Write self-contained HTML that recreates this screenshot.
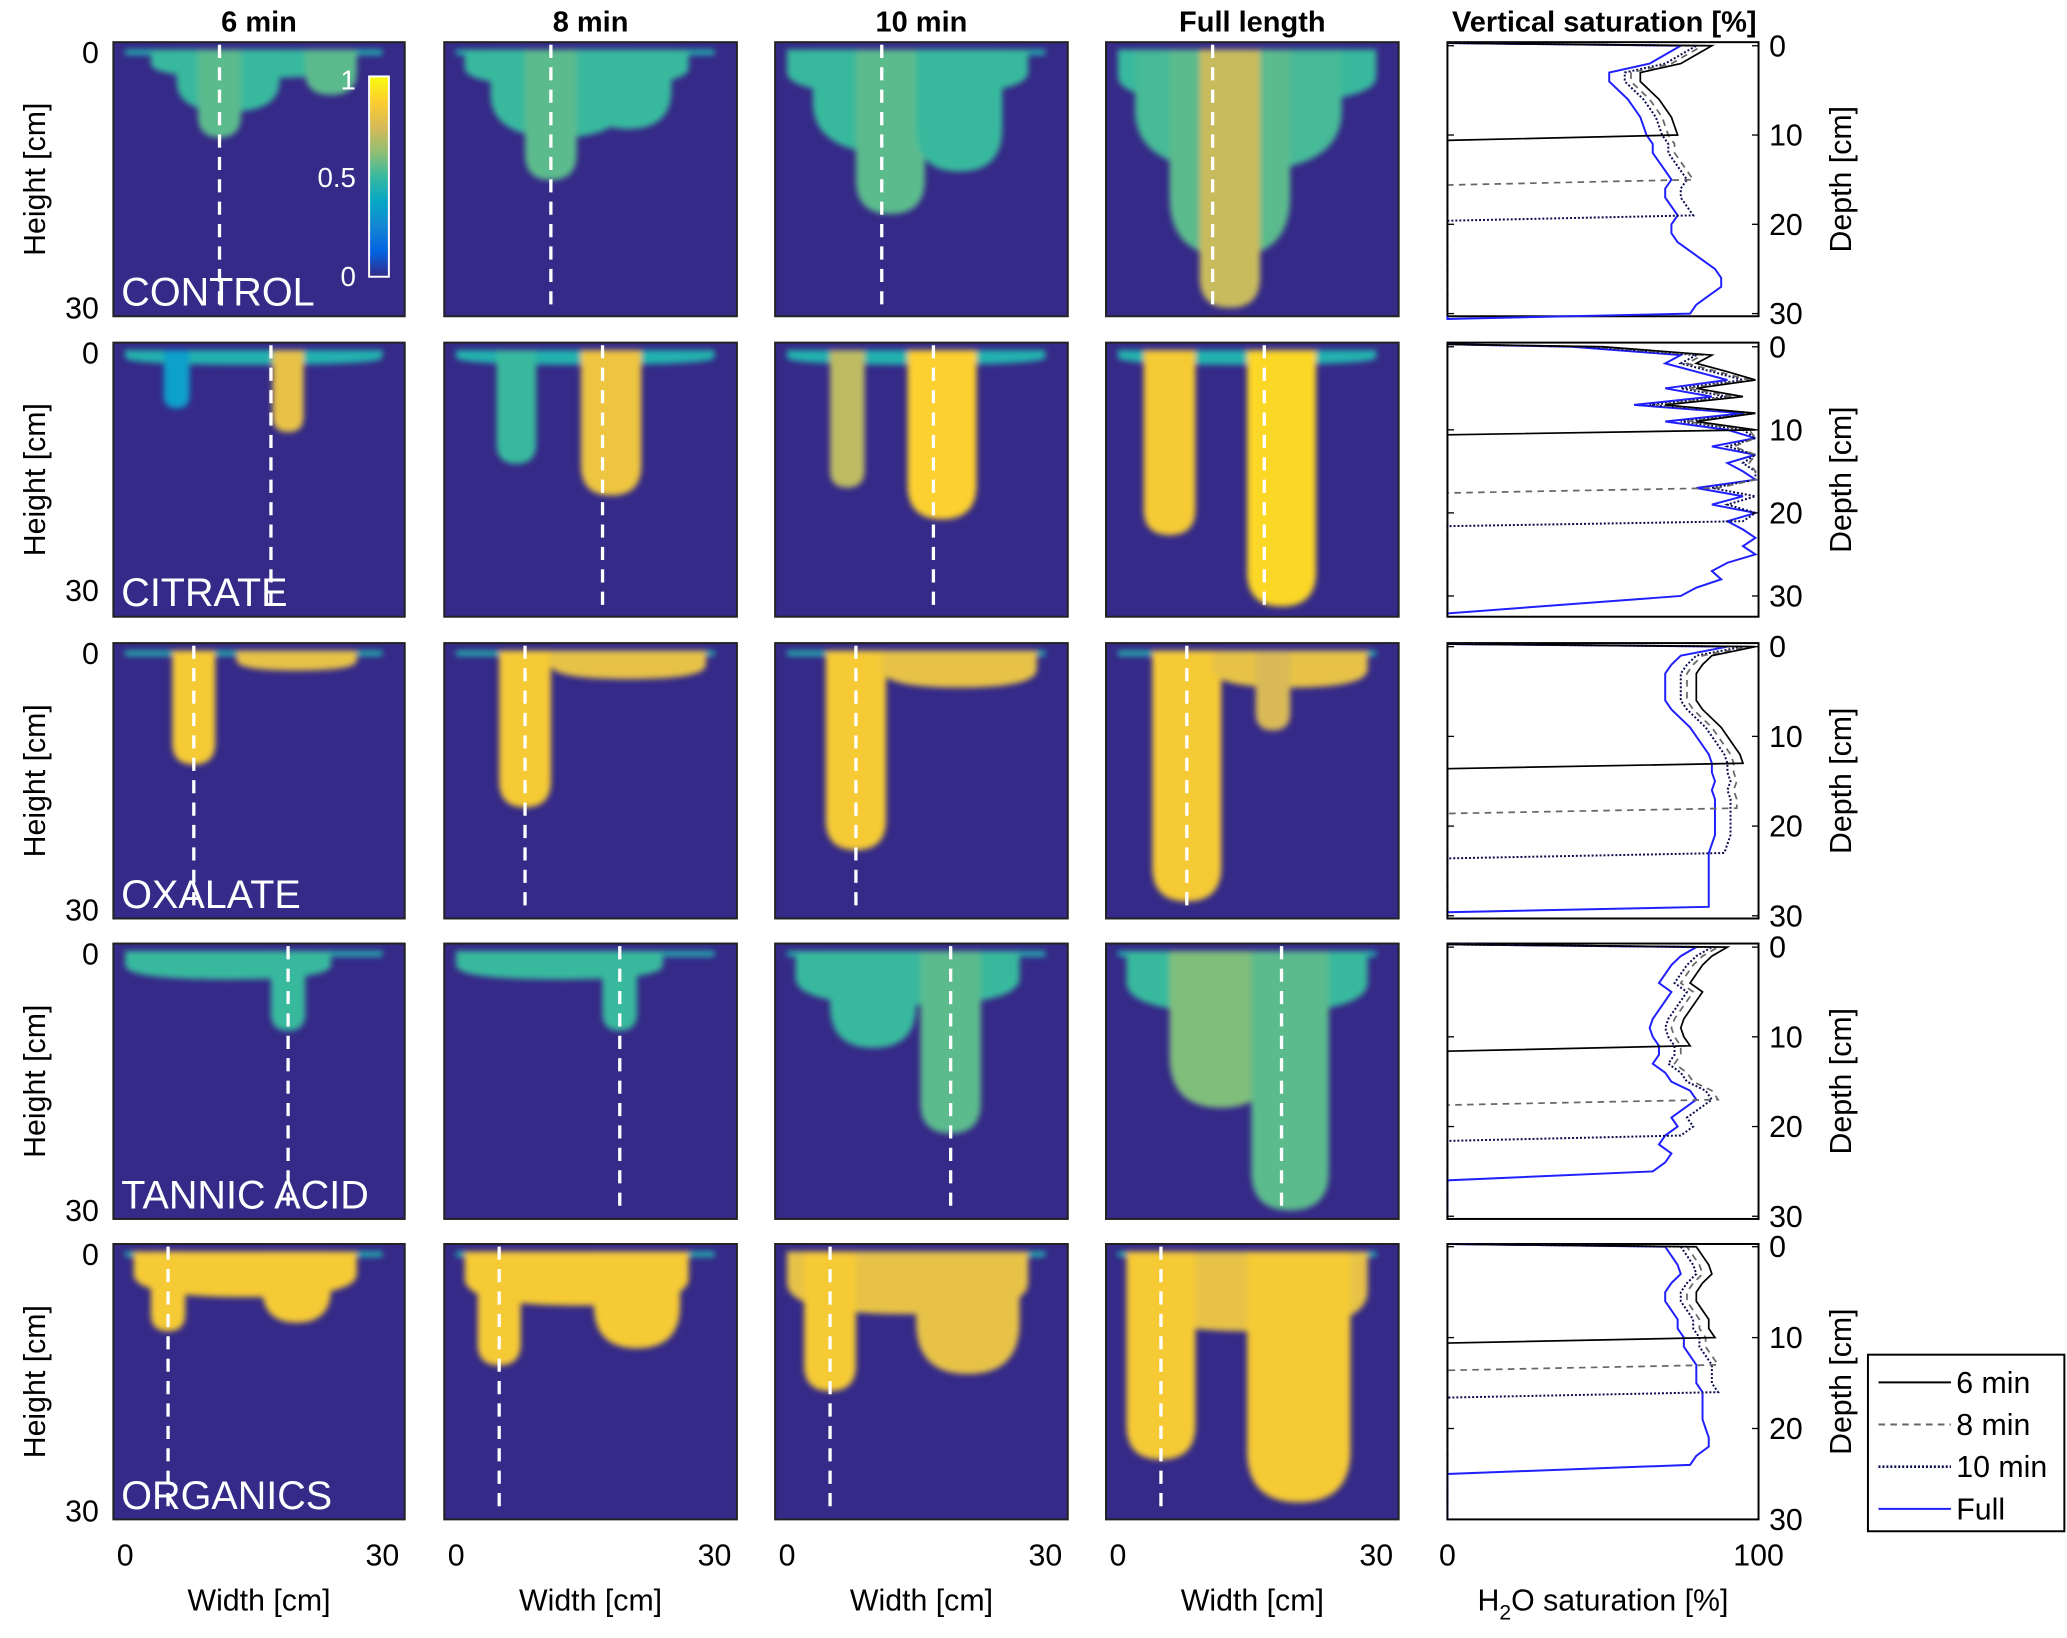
<!DOCTYPE html>
<html><head><meta charset="utf-8"><style>
html,body{margin:0;padding:0;background:#fff}
svg{display:block}
text{font-family:"Liberation Sans",sans-serif}
</style></head><body>
<svg id="fig" width="2067" height="1638" viewBox="0 0 1568 1243" preserveAspectRatio="none" xmlns="http://www.w3.org/2000/svg">
<defs>
<filter id="blur" x="-20%" y="-20%" width="140%" height="140%"><feGaussianBlur stdDeviation="2.2"/></filter>
<linearGradient id="parulaGrad" x1="0" y1="1" x2="0" y2="0">
<stop offset="0" stop-color="#352a87"/><stop offset="0.125" stop-color="#0363e1"/><stop offset="0.25" stop-color="#1485d4"/><stop offset="0.375" stop-color="#06a7c6"/><stop offset="0.5" stop-color="#38b99e"/><stop offset="0.625" stop-color="#92bf73"/><stop offset="0.75" stop-color="#d9ba56"/><stop offset="0.875" stop-color="#fcce2e"/><stop offset="1" stop-color="#f9fb0e"/>
</linearGradient>
</defs>
</svg>
<script>
// ---------- data ----------
const columnTitles = ["6 min","8 min","10 min","Full length"];
const rowNames = ["CONTROL","CITRATE","OXALATE","TANNIC ACID","ORGANICS"];
const seriesNames = ["6 min","8 min","10 min","Full"];
// plume blobs per row, per column: [centerX cm, halfWidth cm, bottomDepth cm, level 0-1]
const plumesControl = [
 [[15,12,3,0.5],[12,6,7,0.5],[11,2.5,10,0.55],[24,3,5,0.55]],
 [[14,13,4,0.5],[12,8,10,0.5],[11,3,15,0.55],[20,5,9,0.5]],
 [[14,14,5,0.5],[13,10,12,0.5],[12,4,19,0.55],[20,5,14,0.5]],
 [[15,15,6,0.5],[14,12,14,0.52],[13,7,24,0.55],[13,3.5,30,0.72]]];
const plumesCitrate = [
 [[15,15,1.5,0.45],[6,1.5,7,0.35],[19,1.8,10,0.8]],
 [[15,15,1.5,0.45],[7,2.3,14,0.5],[18,3.5,18,0.82]],
 [[15,15,1.5,0.45],[7,2,17,0.7],[18,4,21,0.88]],
 [[15,15,1.5,0.45],[6,3,23,0.85],[19,4,32,0.9]]];
const plumesOxalate = [
 [[8,2.5,13,0.85],[20,7,2,0.8]],
 [[8,3,18,0.85],[20,9,3,0.8]],
 [[8,3.5,23,0.85],[20,9,4,0.8]],
 [[8,4,29,0.85],[20,9,4,0.8],[18,2,9,0.75]]];
const plumesTannic = [
 [[12,12,3,0.5],[19,2,9,0.5]],
 [[12,12,3,0.5],[19,2,9,0.5]],
 [[14,13,6,0.5],[10,5,11,0.5],[19,3.5,21,0.55]],
 [[15,14,7,0.5],[12,6,18,0.6],[20,4.5,30,0.55]]];
const plumesOrganics = [
 [[14,13,5,0.85],[5,2,9,0.85],[20,4,8,0.85]],
 [[14,13,6,0.85],[5,2.5,13,0.85],[21,5,11,0.85]],
 [[14,14,7,0.8],[5,3,16,0.85],[21,6,14,0.8]],
 [[15,14,9,0.8],[5,4,24,0.85],[21,6,29,0.85]]];
const plumes = [plumesControl,plumesCitrate,plumesOxalate,plumesTannic,plumesOrganics];
const dashX = [11,17,8,19,5];
// saturation profiles (% at depth 0..30 cm)
const satControl = [75,70,65,52,52,55,58,60,62,63,64,66,66,68,70,72,70,70,72,74,72,72,74,78,82,86,88,88,84,80,78];
const satCitrate = [40,75,70,80,90,70,85,60,95,70,90,100,85,100,90,95,100,80,95,85,100,90,95,100,95,100,90,85,88,80,75];
const satOxalate = [90,75,72,70,70,70,70,72,75,78,80,82,84,85,85,86,85,86,86,86,86,86,85,84,84,84,84,84,84,84,84];
const satTannic = [80,75,72,70,68,72,70,68,66,65,66,68,68,66,70,72,78,80,76,72,74,70,68,72,70,66,0,0,0,0,0];
const satOrganics = [70,72,74,75,72,70,70,72,74,74,76,76,78,80,80,80,82,82,82,82,83,84,84,80,78,0,0,0,0,0,0];
const satProfiles = [satControl,satCitrate,satOxalate,satTannic,satOrganics];
const seriesOffset = [10,7,5,0];
const fronts = [[10,15,19,30],[10,17,21,31.5],[13,18,23,29],[11,17,21,27],[10,13,16,26]];

// ---------- layout ----------
const NS="http://www.w3.org/2000/svg";
const svg=document.getElementById('fig');
const colX=[[86,307],[337,559],[588,810],[839,1061]];
const rowY=[[32,240],[260,468],[488,697],[716,925],[944,1153]];
const imgYDom=[[-1.2,31],[-1.3,33.3],[-1.2,31],[-1.2,31],[-1.2,31]];
const imgXDom=[-1.38,32.6];
const profX=[1098,1334];
const profYDom=[[-0.4,30.3],[-0.5,32.5],[-0.4,30.3],[-0.4,30.3],[-0.3,30]];
function el(tag,attrs,parent){const e=document.createElementNS(NS,tag);for(const k in attrs)e.setAttribute(k,attrs[k]);(parent||svg).appendChild(e);return e;}
function txt(s,x,y,size,anchor,parent,extra){const t=el('text',Object.assign({x:x,y:y,'font-size':size,'text-anchor':anchor||'middle',fill:'#000'},extra||{}),parent);t.textContent=s;return t;}
const stops=[[0,[53,42,135]],[0.125,[3,99,225]],[0.25,[20,133,212]],[0.375,[6,167,198]],[0.5,[56,185,158]],[0.625,[146,191,115]],[0.75,[217,186,86]],[0.875,[252,206,46]],[1,[249,251,14]]];
function parula(v){for(let i=1;i<stops.length;i++){if(v<=stops[i][0]){const a=stops[i-1],b=stops[i],t=(v-a[0])/(b[0]-a[0]);return 'rgb('+a[1].map((c,j)=>Math.round(c+(b[1][j]-c)*t)).join(',')+')';}}return 'rgb(249,251,14)';}

// titles
columnTitles.forEach((t,c)=>{const e=txt(t,(colX[c][0]+colX[c][1])/2,24,22,'middle',svg,{'font-weight':'bold'});

});
{const e=txt('Vertical saturation [%]',1217,24,22,'middle',svg,{'font-weight':'bold'});

}

for(let r=0;r<5;r++){
 const [y0,y1]=rowY[r];
 const yd=imgYDom[r];
 const ys=d=>y0+(d-yd[0])/(yd[1]-yd[0])*(y1-y0);
 const hl=txt('Height [cm]',0,0,23,'middle',svg,{transform:'translate(34,'+((y0+y1)/2)+') rotate(-90)'});
 
 
 txt('0',75,ys(0)+8,23,'end');
 txt('30',75,ys(30)+8,23,'end');
 for(let c=0;c<4;c++){
  const [x0,x1]=colX[c];
  const xs=v=>x0+(v-imgXDom[0])/(imgXDom[1]-imgXDom[0])*(x1-x0);
  const g=el('g',{});
  
  
  const cid='clip'+r+'_'+c;
  const cp=el('clipPath',{id:cid},g);el('rect',{x:x0,y:y0,width:x1-x0,height:y1-y0},cp);
  el('rect',{x:x0,y:y0,width:x1-x0,height:y1-y0,fill:'#352a87'},g);
  const bg=el('g',{'clip-path':'url(#'+cid+')'},g);
  const bl=el('g',{filter:'url(#blur)'},bg);
  el('rect',{x:xs(0),y:ys(0)-2,width:xs(30)-xs(0),height:4,fill:parula(0.45)},bl);
  plumes[r][c].forEach(p=>{
   const L=xs(p[0]-p[1]),R=xs(p[0]+p[1]),T=ys(0)-2,B=ys(p[2]),cx=xs(p[0]);
   const rr=Math.min((R-L)/2,(B-T)/2);
   const d='M'+L+','+T+' L'+R+','+T+' L'+R+','+(B-rr)+' Q'+R+','+B+' '+cx+','+B+' Q'+L+','+B+' '+L+','+(B-rr)+' Z';
   const pth=el('path',{d:d,fill:parula(p[3])},bl);
   
   
  });
  const dl=el('line',{x1:xs(dashX[r]),x2:xs(dashX[r]),y1:y0+2,y2:y1-4,stroke:'#fff','stroke-width':2.5,'stroke-dasharray':'10,7'},g);
  
  
  el('rect',{x:x0,y:y0,width:x1-x0,height:y1-y0,fill:'none',stroke:'#222','stroke-width':1.5},g);
  if(c===0){const rl=txt(rowNames[r],x0+6,y1-8,30,'start',g,{fill:'#fff'});
   
   }
  if(r===4){txt('0',xs(0),1188,23);txt('30',xs(30),1188,23);
   const wl=txt('Width [cm]',(x0+x1)/2,1222,23);
   
   }
  if(r===0&&c===0){
   const cb=el('g',{});
   
   
   el('rect',{x:280,y:58,width:15,height:152,fill:'url(#parulaGrad)',stroke:'#fff','stroke-width':1.5},cb);
   txt('1',270,68,21,'end',cb,{fill:'#fff'});
   txt('0.5',270,142,21,'end',cb,{fill:'#fff'});
   txt('0',270,217,21,'end',cb,{fill:'#fff'});
  }
 }
 const pd=profYDom[r];
 const py=d=>y0+(d-pd[0])/(pd[1]-pd[0])*(y1-y0);
 const px=v=>profX[0]+v/100*(profX[1]-profX[0]);
 const pg=el('g',{});
 
 
 el('rect',{x:profX[0],y:y0,width:profX[1]-profX[0],height:y1-y0,fill:'#fff',stroke:'#000','stroke-width':1.5},pg);
 const styles=[{stroke:'#000','stroke-width':1.3},{stroke:'#666','stroke-width':1.3,'stroke-dasharray':'5,4'},{stroke:'#0a0a50','stroke-width':1.5,'stroke-dasharray':'1.5,1.5'},{stroke:'#2020ff','stroke-width':1.5}];
 [3,2,1,0].forEach(s=>{
  const f=fronts[r][s];const sat=satProfiles[r];
  const pts=[[0,-0.3]];
  for(let d=0;d<=Math.floor(f)&&d<sat.length;d++){pts.push([Math.min(99,sat[d]+(s<3?seriesOffset[s]:0)),d]);}
  pts.push([0,f+0.6]);pts.push([0,pd[1]]);
  const pl=el('polyline',Object.assign({points:pts.map(p=>px(p[0])+','+py(p[1])).join(' '),fill:'none'},styles[s]),pg);
  
  
 });
 [0,10,20,30].forEach(t=>{if(py(t)<=y1+1){el('line',{x1:profX[1]-5,x2:profX[1],y1:py(t),y2:py(t),stroke:'#000'},pg);el('line',{x1:profX[0],x2:profX[0]+5,y1:py(t),y2:py(t),stroke:'#000'},pg);txt(String(t),1342,py(t)+8,23,'start');}});
 const dl2=txt('Depth [cm]',0,0,23,'middle',svg,{transform:'translate(1404,'+((y0+y1)/2)+') rotate(-90)'});
 
 
}
txt('0',1098,1188,23);txt('100',1334,1188,23);
{const t=el('text',{x:1216,y:1222,'font-size':23,'text-anchor':'middle'});t.innerHTML='H<tspan dy="7" font-size="16">2</tspan><tspan dy="-7">O saturation [%]</tspan>';

}
{const lg=el('g',{});


el('rect',{x:1417,y:1028,width:149,height:134,fill:'#fff',stroke:'#000','stroke-width':1.5},lg);
const ls=[{stroke:'#000','stroke-width':1.5},{stroke:'#666','stroke-width':1.5,'stroke-dasharray':'5,4'},{stroke:'#0a0a50','stroke-width':2,'stroke-dasharray':'1.5,1.5'},{stroke:'#2020ff','stroke-width':1.5}];
seriesNames.forEach((n,i)=>{const y=1049+i*32;
 const e=el('line',Object.assign({x1:1425,x2:1480,y1:y,y2:y},ls[i]),lg);
 
 
 txt(n,1484,y+8,23,'start',lg);});
}
</script>
</body></html>
